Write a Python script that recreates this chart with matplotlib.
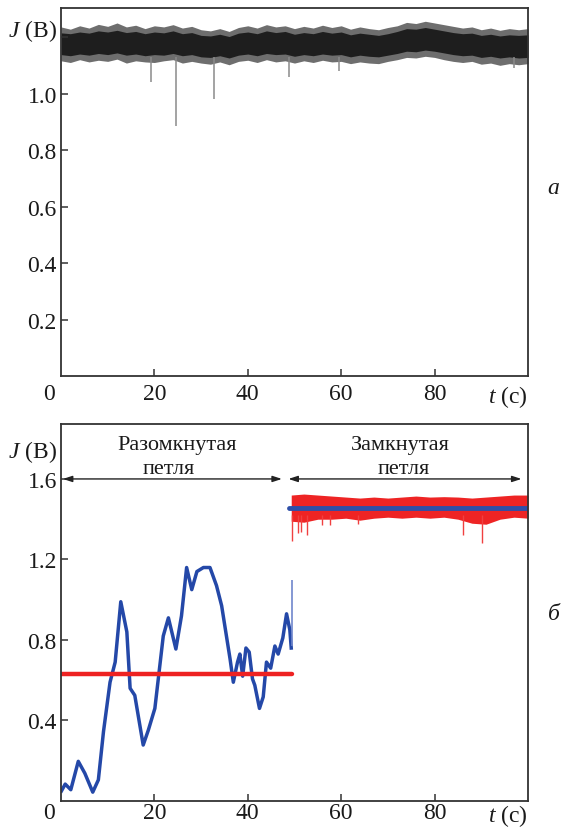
import matplotlib
matplotlib.use('Agg')
import matplotlib.pyplot as plt

plt.rcParams['font.family'] = ['Liberation Serif', 'DejaVu Serif']
plt.rcParams['mathtext.fontset'] = 'custom'
plt.rcParams['mathtext.rm'] = 'Liberation Serif'
plt.rcParams['mathtext.it'] = 'Liberation Serif:italic'

# ---------------- data: panel a ----------------
t_env_a = list(range(0, 101, 2))
fuzz_hi_a = [1.236, 1.228, 1.240, 1.232, 1.245, 1.238, 1.250, 1.236, 1.242, 1.230, 1.240,
             1.236, 1.244, 1.232, 1.238, 1.226, 1.222, 1.230, 1.220, 1.234, 1.240, 1.232,
             1.244, 1.236, 1.240, 1.230, 1.238, 1.232, 1.242, 1.234, 1.240, 1.228, 1.236,
             1.230, 1.226, 1.234, 1.240, 1.252, 1.248, 1.256, 1.250, 1.244, 1.238, 1.232,
             1.236, 1.226, 1.232, 1.224, 1.230, 1.226, 1.230]
core_hi_a = [1.215, 1.212, 1.218, 1.214, 1.222, 1.218, 1.224, 1.216, 1.220, 1.212, 1.218,
             1.215, 1.222, 1.212, 1.216, 1.206, 1.204, 1.210, 1.202, 1.214, 1.218, 1.212,
             1.222, 1.216, 1.220, 1.210, 1.216, 1.212, 1.220, 1.214, 1.218, 1.208, 1.214,
             1.210, 1.206, 1.212, 1.220, 1.230, 1.228, 1.234, 1.228, 1.222, 1.216, 1.212,
             1.214, 1.206, 1.210, 1.204, 1.208, 1.206, 1.208]
core_lo_a = [1.138, 1.134, 1.140, 1.136, 1.142, 1.138, 1.144, 1.136, 1.140, 1.134, 1.138,
             1.136, 1.142, 1.134, 1.138, 1.130, 1.128, 1.134, 1.126, 1.136, 1.140, 1.134,
             1.142, 1.138, 1.140, 1.132, 1.138, 1.134, 1.140, 1.136, 1.138, 1.130, 1.136,
             1.132, 1.130, 1.136, 1.142, 1.150, 1.148, 1.154, 1.150, 1.144, 1.138, 1.134,
             1.136, 1.128, 1.132, 1.126, 1.130, 1.126, 1.128]
fuzz_lo_a = [1.116, 1.110, 1.120, 1.112, 1.118, 1.114, 1.122, 1.108, 1.116, 1.112, 1.110,
             1.116, 1.120, 1.108, 1.114, 1.108, 1.104, 1.112, 1.102, 1.114, 1.118, 1.110,
             1.120, 1.112, 1.116, 1.108, 1.116, 1.110, 1.118, 1.112, 1.114, 1.106, 1.112,
             1.108, 1.106, 1.114, 1.120, 1.128, 1.126, 1.132, 1.128, 1.120, 1.114, 1.110,
             1.114, 1.104, 1.108, 1.100, 1.106, 1.102, 1.106]
spike_t_a = [19.3, 24.6, 32.8, 48.8, 59.5, 97.0]
spike_lo_a = [1.04, 0.885, 0.98, 1.06, 1.08, 1.09]

# ---------------- data: panel б ----------------
t_open = [0.1, 0.9, 2.1, 3.7, 5.1, 6.8, 8.0, 9.1, 10.5, 11.6, 12.8, 14.1, 14.8, 15.8, 17.6,
          18.7, 20.1, 21.9, 23.0, 24.6, 25.8, 26.9, 28.0, 29.1, 30.5, 31.9, 33.3, 34.4,
          36.2, 36.9, 37.8, 38.3, 38.9, 39.6, 40.3, 41.0, 41.5, 42.5, 43.3, 44.0, 44.9,
          45.8, 46.5, 47.5, 48.3, 49.0, 49.3]
J_open = [0.05, 0.084, 0.056, 0.197, 0.138, 0.044, 0.105, 0.345, 0.59, 0.69, 0.99, 0.84,
          0.56, 0.525, 0.278, 0.352, 0.46, 0.82, 0.91, 0.755, 0.92, 1.16, 1.05, 1.14, 1.16,
          1.16, 1.07, 0.97, 0.706, 0.59, 0.69, 0.73, 0.62, 0.76, 0.74, 0.607, 0.575, 0.46,
          0.517, 0.69, 0.66, 0.77, 0.73, 0.81, 0.93, 0.85, 0.76]
spike_open_t = 49.4
spike_open_J = (0.77, 1.10)
mean_open_t = [0.0, 49.4]
mean_open_J = 0.63

t_env_b = [49.3, 52, 55, 58, 61, 64, 67, 70, 73, 76, 79, 82, 85, 88, 91, 94, 97, 100]
red_hi_b = [1.52, 1.525, 1.52, 1.515, 1.51, 1.505, 1.51, 1.505, 1.51, 1.515, 1.51, 1.512,
            1.51, 1.505, 1.51, 1.515, 1.52, 1.52]
red_lo_b = [1.39, 1.385, 1.40, 1.40, 1.405, 1.395, 1.405, 1.41, 1.405, 1.41, 1.405, 1.41,
            1.40, 1.38, 1.375, 1.40, 1.41, 1.405]
red_spike_t = [49.4, 50.8, 51.4, 52.6, 55.8, 57.6, 63.6, 86.0, 90.1]
red_spike_lo = [1.29, 1.33, 1.335, 1.32, 1.37, 1.37, 1.375, 1.32, 1.283]
mean_closed_t = [48.9, 100]
mean_closed_J = 1.455

# ---------------- figure ----------------
W, H = 562, 828
fig = plt.figure(figsize=(W / 100, H / 100), dpi=100)
ax1 = fig.add_axes([61 / W, 1 - 377 / H, 467 / W, 368 / H])
ax2 = fig.add_axes([61 / W, 1 - 802 / H, 467 / W, 377 / H])

FS = 16
TFS = 17
txt_c = '#1a1a1a'
frame_c = '#333333'
for ax, xpad in ((ax1, 5), (ax2, 1.0)):
    for s in ax.spines.values():
        s.set_color(frame_c)
        s.set_linewidth(1.3)
    ax.tick_params(direction='in', length=5, width=1.1, colors=frame_c,
                   labelsize=TFS, labelcolor=txt_c)
    ax.tick_params(axis='y', pad=3)
    ax.tick_params(axis='x', pad=xpad)
    ax.set_xlim(0, 100)
    ax.set_xticks([20, 40, 60, 80])
    ax.set_xticklabels(['20', '40', '60', '80'])
    ax.annotate('0', xy=(0.0, 0), xycoords='axes fraction',
                xytext=(-9, -xpad), textcoords='offset points',
                ha='center', va='top', fontsize=TFS, color=txt_c)
    ax.annotate('$\\it{t}$ (с)', xy=(1.0, 0), xycoords='axes fraction',
                xytext=(0, -xpad), textcoords='offset points',
                ha='right', va='top', fontsize=TFS, color=txt_c)

# panel a
ax1.set_ylim(0, 1.303)
ax1.set_yticks([0.2, 0.4, 0.6, 0.8, 1.0, 1.2])
ax1.set_yticklabels(['0.2', '0.4', '0.6', '0.8', '1.0', ''])
ax1.vlines(spike_t_a, spike_lo_a, [1.13] * len(spike_t_a), color='#8a8a8a', lw=1.1)
ax1.fill_between(t_env_a, fuzz_lo_a, fuzz_hi_a, color='#6e6e6e', lw=0)
ax1.fill_between(t_env_a, core_lo_a, core_hi_a, color='#1e1e1e', lw=0)
ax1.text(-0.009, 1.225, '$\\it{J}$ (В)', transform=ax1.get_yaxis_transform(),
         ha='right', va='center', fontsize=TFS, color=txt_c)

# panel б
ax2.set_ylim(0, 1.873)
ax2.set_yticks([0.4, 0.8, 1.2, 1.6])
ax2.set_yticklabels(['0.4', '0.8', '1.2', '1.6'])
ax2.plot(t_open, J_open, color='#2448a8', lw=2.5, solid_joinstyle='round')
ax2.vlines([spike_open_t], [spike_open_J[0]], [spike_open_J[1]], color='#6f86cc', lw=1.2)
ax2.plot(mean_open_t, [mean_open_J] * 2, color='#ee2222', lw=3.2, solid_capstyle='round')
ax2.vlines(red_spike_t, red_spike_lo, [1.42] * len(red_spike_t), color='#f04040', lw=1.0)
ax2.fill_between(t_env_b, red_lo_b, red_hi_b, color='#ee2424', lw=0)
ax2.plot(mean_closed_t, [mean_closed_J] * 2, color='#2e4fa8', lw=3.5, solid_capstyle='round')

arrow_kw = dict(arrowstyle='<|-|>,head_length=0.55,head_width=0.18', lw=1.0,
                color='#222222', shrinkA=0, shrinkB=0)
ax2.annotate('', xy=(0.4, 1.6), xytext=(47.3, 1.6), arrowprops=arrow_kw)
ax2.annotate('', xy=(48.7, 1.6), xytext=(98.6, 1.6), arrowprops=arrow_kw)
ax2.text(24.8, 1.77, 'Разомкнутая', ha='center', va='center', fontsize=FS, color=txt_c)
ax2.text(23.0, 1.65, 'петля', ha='center', va='center', fontsize=FS, color=txt_c)
ax2.text(72.6, 1.77, 'Замкнутая', ha='center', va='center', fontsize=FS, color=txt_c)
ax2.text(73.3, 1.65, 'петля', ha='center', va='center', fontsize=FS, color=txt_c)
ax2.text(-0.009, 1.74, '$\\it{J}$ (В)', transform=ax2.get_yaxis_transform(),
         ha='right', va='center', fontsize=TFS, color=txt_c)

# panel letters
fig.text(553 / W, 1 - 188 / H, 'а', style='italic', ha='center', va='center',
         fontsize=TFS, color=txt_c)
fig.text(560 / W, 1 - 615 / H, 'б', style='italic', ha='right', va='center',
         fontsize=TFS, color=txt_c)

fig.savefig('out.png', dpi=100)
